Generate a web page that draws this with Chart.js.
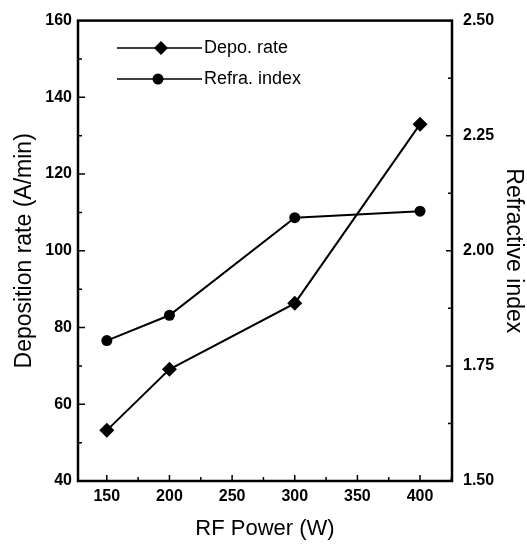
<!DOCTYPE html>
<html>
<head>
<meta charset="utf-8">
<script src="https://cdn.jsdelivr.net/npm/chart.js"></script>
<style>
  body { margin: 0; background: #fff; }
  canvas { display: block; }
</style>
</head>
<body>
<canvas id="chartz" width="527" height="547"></canvas>
<script>
'use strict'

// data
const rfPower = [150, 200, 300, 400];
const depoRate = [53.2, 69.1, 86.3, 133];
const refraIndex = [1.805, 1.86, 2.072, 2.086];

// tick labels
const xTicks = [150, 200, 250, 300, 350, 400];
const yTicks = [40, 60, 80, 100, 120, 140, 160];
const y1Ticks = [1.50, 1.75, 2.00, 2.25, 2.50];

const fontName = '"Liberation Sans", Arial, sans-serif';

// frame, inward ticks and the legend
const framePlugin = {
  id: 'frame',
  afterDraw(chart) {
    const ctx = chart.ctx;
    const a = chart.chartArea;
    const x = chart.scales.x, y = chart.scales.y, y1 = chart.scales.y1;
    ctx.save();
    ctx.strokeStyle = '#000';
    ctx.lineWidth = 2.5;
    ctx.strokeRect(a.left, a.top, a.right - a.left, a.bottom - a.top);

    ctx.lineWidth = 1.5;
    ctx.beginPath();
    for (let v = 150; v <= 425; v += 25) {
      const px = x.getPixelForValue(v);
      const len = v % 50 === 0 ? 6 : 4;
      ctx.moveTo(px, a.bottom); ctx.lineTo(px, a.bottom - len);
    }
    for (let v = 50; v < 160; v += 10) {
      const py = y.getPixelForValue(v);
      const len = v % 20 === 0 ? 7 : 4;
      ctx.moveTo(a.left, py); ctx.lineTo(a.left + len, py);
    }
    for (let i = 1; i < 8; i++) {
      const v = 1.5 + i * 0.125;
      const py = y1.getPixelForValue(v);
      const len = i % 2 === 0 ? 6 : 4;
      ctx.moveTo(a.right, py); ctx.lineTo(a.right - len, py);
    }
    ctx.stroke();

    // legend
    chart.data.datasets.forEach((ds, i) => {
      const ly = 48 + i * 31;
      const mx = i === 0 ? 161 : 158;
      ctx.lineWidth = 1.5;
      ctx.beginPath();
      ctx.moveTo(117, ly); ctx.lineTo(202, ly);
      ctx.stroke();
      ctx.fillStyle = '#000';
      ctx.beginPath();
      if (ds.pointStyle === 'rectRot') {
        const r = 7;
        ctx.moveTo(mx, ly - r); ctx.lineTo(mx + r, ly);
        ctx.lineTo(mx, ly + r); ctx.lineTo(mx - r, ly);
        ctx.closePath();
      } else {
        ctx.arc(mx, ly, 5.5, 0, Math.PI * 2);
      }
      ctx.fill();
      ctx.font = '18px ' + fontName;
      ctx.textAlign = 'left';
      ctx.textBaseline = 'middle';
      ctx.fillText(ds.label, 204, ly);
    });
    ctx.restore();
  }
};

const data = {
  datasets: [{
    label: 'Depo. rate',
    data: rfPower.map((p, i) => ({x: p, y: depoRate[i]})),
    yAxisID: 'y',
    borderColor: '#000',
    backgroundColor: '#000',
    borderWidth: 2,
    pointStyle: 'rectRot',
    pointRadius: 7.5,
    pointBorderWidth: 0,
    tension: 0
  }, {
    label: 'Refra. index',
    data: rfPower.map((p, i) => ({x: p, y: refraIndex[i]})),
    yAxisID: 'y1',
    borderColor: '#000',
    backgroundColor: '#000',
    borderWidth: 2,
    pointStyle: 'circle',
    pointRadius: 5.5,
    pointBorderWidth: 0,
    tension: 0
  }]
};

const tickFont = {family: fontName, size: 16, weight: 'bold'};
const titleFont = {family: fontName, size: 23};

const config = {
  type: 'line',
  data: data,
  options: {
    responsive: false,
    animation: false,
    layout: {padding: {top: 14, left: 0, right: 0, bottom: 0}},
    plugins: {legend: {display: false}, tooltip: {enabled: false}},
    scales: {
      x: {
        type: 'linear',
        min: 127, max: 425.5,
        afterBuildTicks: s => { s.ticks = xTicks.map(v => ({value: v})); },
        afterFit: s => { s.height = 66; },
        grid: {display: false, drawTicks: false},
        border: {display: false},
        ticks: {color: '#000', font: tickFont, padding: 6, maxRotation: 0},
        title: {display: true, text: 'RF Power (W)', color: '#000', font: {family: fontName, size: 22}, padding: {top: 0, bottom: 5}}
      },
      y: {
        position: 'left',
        min: 40, max: 160,
        afterBuildTicks: s => { s.ticks = yTicks.map(v => ({value: v})); },
        afterFit: s => { s.width = 78; },
        grid: {display: false, drawTicks: false},
        border: {display: false},
        ticks: {color: '#000', font: tickFont, padding: 6},
        title: {display: true, text: 'Deposition rate (A/min)', color: '#000', font: titleFont, padding: {top: 11, bottom: 0}}
      },
      y1: {
        position: 'right',
        min: 1.5, max: 2.5,
        afterBuildTicks: s => { s.ticks = y1Ticks.map(v => ({value: v})); },
        afterFit: s => { s.width = 75; },
        grid: {display: false, drawTicks: false},
        border: {display: false},
        ticks: {color: '#000', font: tickFont, padding: 11, callback: v => v.toFixed(2)},
        title: {display: true, text: 'Refractive index', color: '#000', font: titleFont, padding: {top: 0, bottom: 0}}
      }
    }
  },
  plugins: [framePlugin]
};

const myChart = new Chart(document.getElementById('chartz'), config);
</script>
</body>
</html>
